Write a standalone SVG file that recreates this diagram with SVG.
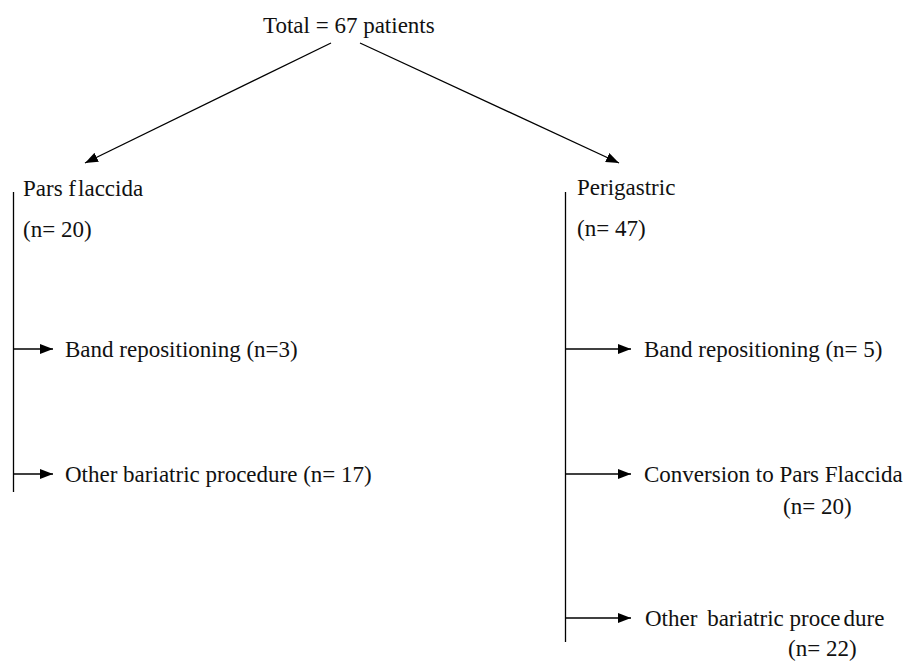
<svg xmlns="http://www.w3.org/2000/svg" width="909" height="664" viewBox="0 0 909 664">
<defs>
<marker id="ah" markerUnits="userSpaceOnUse" markerWidth="14" markerHeight="10" refX="13" refY="5" orient="auto">
<path d="M0,0 L13,5 L0,10 Z" fill="#000"/>
</marker>
<style>
text{font-family:"Liberation Serif","Times New Roman",serif;font-size:23px;fill:#111}
.c line{stroke:#000;stroke-width:1.3;fill:none}
.a{marker-end:url(#ah)}
</style>
</defs>
<rect width="909" height="664" fill="#fff"/>
<g id="total"><text x="263" y="33">Total = 67 patients</text></g>
<g id="pars"><text x="23" y="196">Pars f<tspan dx="2">laccida</tspan></text><text x="23" y="237">(n= 20)</text></g>
<g id="peri"><text x="577" y="195">Perigastric</text><text x="577" y="236">(n= 47)</text></g>
<g id="pf-band"><text x="65" y="357">Band repositioning (n=3)</text></g>
<g id="pf-other"><text x="65" y="482">Other bariatric procedure (n= 17)</text></g>
<g id="pg-band"><text x="644" y="357">Band repositioning (n= 5)</text></g>
<g id="pg-conv"><text x="644" y="482">Conversion to Pars Flaccida</text><text x="783" y="514">(n= 20)</text></g>
<g id="pg-other"><text x="645" y="626">Other <tspan dx="4">bariatric proce</tspan><tspan dx="3">dure</tspan></text><text x="788" y="656">(n= 22)</text></g>
<g id="connectors" class="c">
<line class="a" x1="331" y1="43" x2="85" y2="163"/>
<line class="a" x1="360" y1="43" x2="619" y2="163"/>
<line x1="13.5" y1="192" x2="13.5" y2="492"/>
<line class="a" x1="13.5" y1="349" x2="53" y2="349"/>
<line class="a" x1="13.5" y1="474" x2="53" y2="474"/>
<line x1="565.5" y1="192" x2="565.5" y2="642"/>
<line class="a" x1="565.5" y1="349" x2="631" y2="349"/>
<line class="a" x1="565.5" y1="474" x2="631" y2="474"/>
<line class="a" x1="565.5" y1="618" x2="631" y2="618"/>
</g>
</svg>
